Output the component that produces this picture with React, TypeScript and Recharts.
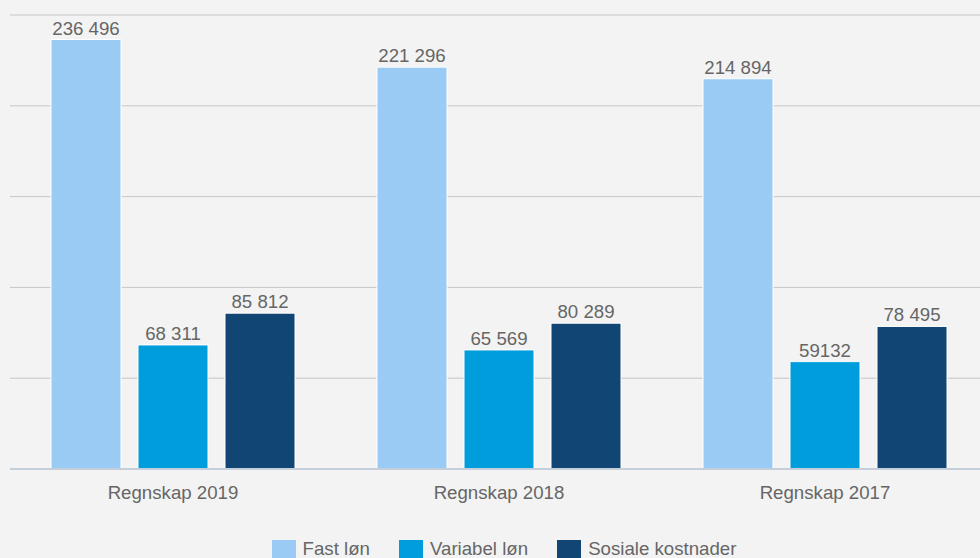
import { BarChart, Bar, XAxis, YAxis, CartesianGrid, Legend, LabelList } from "recharts"

// Lønnskostnader per regnskapsår
const categories = ["Regnskap 2019", "Regnskap 2018", "Regnskap 2017"]
const fastLon = [236496, 221296, 214894]
const variabelLon = [68311, 65569, 59132]
const sosialeKostnader = [85812, 80289, 78495]

// label text as printed in the source
const fastLabels = ["236 496", "221 296", "214 894"]
const variabelLabels = ["68 311", "65 569", "59132"]
const sosialeLabels = ["85 812", "80 289", "78 495"]

const seriesNames = ["Fast løn", "Variabel løn", "Sosiale kostnader"]
const yTicks = [0, 50000, 100000, 150000, 200000, 250000]

const data = categories.map((name, i) => ({
  name,
  fast: fastLon[i],
  variabel: variabelLon[i],
  sosiale: sosialeKostnader[i],
  fastLabel: fastLabels[i],
  variabelLabel: variabelLabels[i],
  sosialeLabel: sosialeLabels[i],
}))

const font = "'Liberation Sans', Arial, sans-serif"
const fontSize = 18.67
const textColor = "#666666"

function renderLegend(props: any) {
  // keep series order instead of the alphabetical default
  const payload = [...(props.payload || [])].sort(
    (a: any, b: any) => seriesNames.indexOf(a.value) - seriesNames.indexOf(b.value)
  )
  return (
    <div
      style={{
        display: "flex",
        justifyContent: "center",
        gap: 29,
        paddingLeft: 10,
        height: 24,
        fontFamily: font,
        fontSize,
        color: textColor,
      }}
    >
      {payload.map((entry: any) => (
        <div key={entry.value} style={{ display: "flex", alignItems: "flex-start" }}>
          <div style={{ width: 24, height: 24, background: entry.color, marginRight: 7 }} />
          <span style={{ lineHeight: "18px", whiteSpace: "nowrap" }}>{entry.value}</span>
        </div>
      ))}
    </div>
  )
}

export default function App() {
  return (
    <div
      style={{
        position: "fixed",
        left: 0,
        top: 0,
        width: 980,
        height: 558,
        overflow: "hidden",
        background: "#f3f3f3",
      }}
    >
      <BarChart
        width={990}
        height={570}
        data={data}
        margin={{ top: 15, right: 2, left: 10, bottom: 6 }}
        barSize={70}
        barGap={17}
      >
        <CartesianGrid vertical={false} stroke="#c6c6c6" />
        <YAxis hide domain={[0, 250000]} ticks={yTicks} />
        <XAxis
          dataKey="name"
          height={71}
          tickLine={false}
          tickSize={0}
          tickMargin={17}
          axisLine={{ stroke: "#c5cfdc", strokeWidth: 2 }}
          tick={{ fill: textColor, fontSize, fontFamily: font }}
        />
        <Legend verticalAlign="bottom" content={renderLegend} />
        <Bar dataKey="fast" name={seriesNames[0]} fill="#99cbf4" stroke="#ffffff" strokeWidth={1} isAnimationActive={false}>
          <LabelList dataKey="fastLabel" position="top" offset={5} fill={textColor} fontSize={fontSize} fontFamily={font} />
        </Bar>
        <Bar dataKey="variabel" name={seriesNames[1]} fill="#009ddd" stroke="#ffffff" strokeWidth={1} isAnimationActive={false}>
          <LabelList dataKey="variabelLabel" position="top" offset={5} fill={textColor} fontSize={fontSize} fontFamily={font} />
        </Bar>
        <Bar dataKey="sosiale" name={seriesNames[2]} fill="#114674" stroke="#ffffff" strokeWidth={1} isAnimationActive={false}>
          <LabelList dataKey="sosialeLabel" position="top" offset={5} fill={textColor} fontSize={fontSize} fontFamily={font} />
        </Bar>
      </BarChart>
    </div>
  )
}
